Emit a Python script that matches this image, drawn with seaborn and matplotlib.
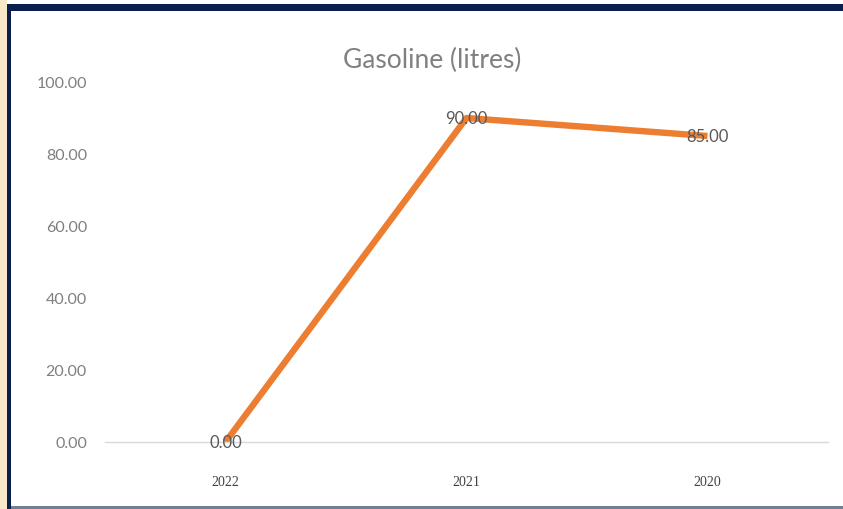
import matplotlib
matplotlib.use("Agg")
import matplotlib.pyplot as plt
import seaborn as sns
import pandas as pd
from matplotlib.patches import Rectangle

years = ["2022", "2021", "2020"]
litres = [0.0, 90.0, 85.0]
y_ticks = [0, 20, 40, 60, 80, 100]

df = pd.DataFrame({"year": years, "litres": litres})

sns.set_theme(style="white")
plt.rcParams["font.family"] = ["Lato", "DejaVu Sans"]

W, H = 843, 510
fig = plt.figure(figsize=(W / 100, H / 100), dpi=100)
fig.patch.set_facecolor("white")

# frame decorations around the chart
fig.patches.append(Rectangle((0, 0), 7 / W, 1, transform=fig.transFigure,
                             facecolor="#f7e9c8", edgecolor="none", zorder=0))
fig.patches.append(Rectangle((7 / W, 0), 4 / W, 1 - 5 / H, transform=fig.transFigure,
                             facecolor="#0b1f4f", edgecolor="none", zorder=1))
fig.patches.append(Rectangle((7 / W, 1 - 12 / H), 1 - 7 / W, 7 / H, transform=fig.transFigure,
                             facecolor="#0b1f4f", edgecolor="none", zorder=1))
fig.patches.append(Rectangle((11 / W, 0), 1 - 11 / W, 3 / H, transform=fig.transFigure,
                             facecolor="#6f7f95", edgecolor="none", zorder=1))

ax = fig.add_axes([105 / W, (H - 443) / H, (828 - 105) / W, (443 - 83) / H])
ax.set_facecolor("white")

sns.lineplot(data=df, x="year", y="litres", ax=ax, color="#ed7d31",
             linewidth=4.6, sort=False, solid_capstyle="butt")

for i, v in enumerate(litres):
    ax.text(i, v, f"{v:.2f}", ha="center", va="center", fontsize=12,
            color="#595959")

ax.set_xlim(-0.5, len(years) - 0.5)
ax.set_ylim(0, 100)
ax.set_yticks(y_ticks)
ax.set_yticklabels([f"{t:.2f}" for t in y_ticks], fontsize=11.5, color="#7f7f7f")
ax.set_xticks(range(len(years)))
ax.set_xticklabels(years, fontsize=10, color="#404040", family="Liberation Serif")
ax.tick_params(axis="y", length=0, pad=13)
ax.tick_params(axis="x", length=0, pad=24)
ax.set_xlabel("")
ax.set_ylabel("")
for side in ["top", "right", "left"]:
    ax.spines[side].set_visible(False)
ax.spines["bottom"].set_color("#d9d9d9")
ax.spines["bottom"].set_linewidth(1.0)

fig.text(432 / W, 1 - 60 / H, "Gasoline (litres)", ha="center", va="center",
         fontsize=19, color="#808080")

fig.savefig("out.png", dpi=100)
